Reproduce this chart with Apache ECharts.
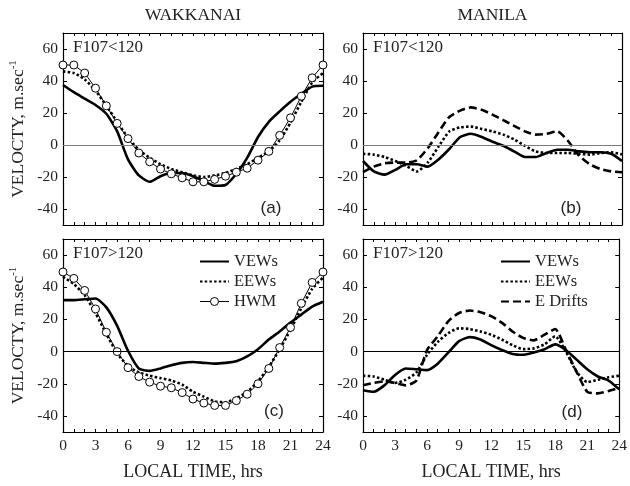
<!DOCTYPE html>
<html><head><meta charset="utf-8">
<script src="https://cdn.jsdelivr.net/npm/echarts@6/dist/echarts.min.js"></script>
<style>html,body{margin:0;padding:0;background:#fff}#c{width:630px;height:486px}</style>
</head><body><div id="c"></div>
<script>
// ---------- data ----------
const hours = [0,1,2,3,4,5,6,7,8,9,10,11,12,13,14,15,16,17,18,19,20,21,22,23,24];
const yTickValues = [-40,-20,0,20,40,60];
const columnTitles = ['WAKKANAI','MANILA'];
const panelTags = ['(a)','(b)','(c)','(d)'];
const fluxTags = ['F107<120','F107<120','F107>120','F107>120'];

// (a) Wakkanai, F107<120
const wakLowVEWs = [37.5,33,29,25,19.5,8.5,-9,-19,-23,-19.5,-17.5,-17.5,-19.5,-22.5,-25.5,-25,-18,-8,5,14.5,21,27,32,36.5,37];
const wakLowEEWs = [46,45,41,34,24.5,14.5,4.5,-3,-8,-12,-15,-17,-19,-20,-19,-17.5,-15,-12,-8,-4,3,14,27,39,45];
const wakLowHWM  = [50,50,45,35.5,24.5,13.5,4,-5,-10.5,-15,-18,-20.5,-23,-23,-21.5,-19.5,-17,-14.5,-9.5,-4,6,17,30.5,42,50];
// (b) Manila, F107<120
const manLowVEWs = [-10,-16.5,-18.5,-15.5,-12,-12,-13.5,-9,-2.5,5,7,5,2,-0.5,-4,-7.5,-7.5,-5,-3,-3,-4,-4.5,-4.5,-5.5,-10];
const manLowEEWs = [-5.5,-6,-7.5,-10,-13,-16.5,-11,-1,8.5,11,11.5,10,8.5,6.5,3.5,-0.5,-4,-5,-5,-5,-5.5,-6,-5,-4.5,-6];
const manLowEDrifts = [-17,-13.5,-11.5,-11,-11,-9.5,-2,8,17.5,21.5,23.5,22,19,15.5,12,8.5,6.5,7,8.5,2.5,-6.5,-12,-15,-16.5,-17];
// (c) Wakkanai, F107>120
const wakHighVEWs = [32,32,32.5,33,27.5,16,0.5,-10.5,-12,-10.5,-8.5,-7,-6.5,-7,-7.5,-7,-6,-3,1.5,7.5,12.5,18,23,28,31];
const wakHighEEWs = [46.5,42,35,24,11,-1,-9,-13,-15,-16.5,-18,-20.5,-25,-28,-31,-31.5,-29,-25,-18.5,-9.5,1.5,13.5,27,39,46];
const wakHighHWM  = [49.5,45.5,38,26.5,12,0,-10,-15.5,-19,-21.5,-22.5,-25.5,-29.5,-32,-33.5,-33.5,-30.5,-26.5,-20,-10.5,2.5,15,30,43,49.5];
// (d) Manila, F107>120
const manHighVEWs = [-24,-25,-21,-14.5,-10.5,-11,-11.5,-7.5,-0.5,6.5,9,7.5,4,1,-1.5,-2,-0.5,1.5,4.5,1,-5,-11,-15.5,-18,-23.5];
const manHighEEWs = [-15,-15.5,-17.5,-19.5,-17.5,-13,-2,6,11.5,14.5,14,12.5,10.5,7.5,4,1.5,2,4.5,9.5,0,-12.5,-19,-17.5,-16,-15];
const manHighEDrifts = [-21,-19.5,-18.5,-19.5,-21,-18,1,9.5,19,24,25.5,24.5,22,18,12.5,8.5,7,10.5,14,1,-12.5,-25,-26,-24.5,-22.5];

// ---------- build ----------
const SERIF = 'Liberation Serif';
const SANS = 'Liberation Sans';
const pts = arr => hours.map((h,i)=>[h,arr[i]]);

const grids = [
  {left:63, top:33, width:260, height:192},
  {left:363, top:33, width:259, height:192},
  {left:63, top:239, width:260, height:193},
  {left:363, top:239, width:259, height:193}
];

const xAxis = [], yAxis = [];
grids.forEach((g,i)=>{
  const bottomRow = i>=2, leftCol = (i%2)===0;
  const base = {
    type:'value', gridIndex:i, min:0, max:24, interval:3,
    axisLine:{show:true, onZero:false, lineStyle:{color:'#000', width:1.2}},
    axisTick:{show:true, inside:true, length:3, lineStyle:{color:'#000', width:1}},
    minorTick:{show:true, splitNumber:3, length:3, lineStyle:{color:'#000', width:1}},
    splitLine:{show:false}, minorSplitLine:{show:false}
  };
  xAxis.push(Object.assign({}, base, {
    position:'bottom',
    axisLabel:{show:bottomRow, fontFamily:SERIF, fontSize:15.5, color:'#222', margin:6},
    name: bottomRow ? 'LOCAL TIME, hrs' : '', nameLocation:'middle', nameGap:31,
    nameTextStyle:{fontFamily:SERIF, fontSize:18, color:'#222'}
  }));
  xAxis.push(Object.assign({}, base, {position:'top', axisLabel:{show:false}}));
  const ybase = {
    type:'value', gridIndex:i, min:-50, max:70,
    axisLine:{show:true, onZero:false, lineStyle:{color:'#000', width:1.2}},
    axisTick:{show:true, inside:true, length:4, customValues:yTickValues, lineStyle:{color:'#000'}},
    splitLine:{show:false}
  };
  yAxis.push(Object.assign({}, ybase, {
    position:'left',
    axisLabel:{show:true, customValues:yTickValues, fontFamily:SERIF, fontSize:15.5, color:'#222', margin:5},
    name: leftCol ? '{a|VELOCTY, m.sec}{s|-1}' : '', nameLocation:'middle', nameGap:35, nameRotate:90,
    nameTextStyle:{fontFamily:SERIF, fontSize:17.5, color:'#222', lineHeight:20,
      rich:{a:{fontFamily:SERIF, fontSize:17.5, color:'#222', lineHeight:20},
            s:{fontFamily:SERIF, fontSize:11, color:'#222', verticalAlign:'top', lineHeight:11}}}
  }));
  yAxis.push(Object.assign({}, ybase, {position:'right', axisLabel:{show:false}}));
});

const styles = {
  VEWs: {lineStyle:{color:'#000', width:2.6, type:'solid'}},
  EEWs: {lineStyle:{color:'#000', width:2.6, type:[2.5,2.2]}},
  'E Drifts': {lineStyle:{color:'#000', width:2.6, type:[8,4]}},
  HWM: {lineStyle:{color:'#000', width:1, type:'solid'}}
};
function mk(name, arr, g, zeroColor){
  const s = {
    name, type:'line', xAxisIndex:2*g, yAxisIndex:2*g, data:pts(arr),
    lineStyle:styles[name].lineStyle, itemStyle:{color:'#000'},
    showSymbol:false, symbol:'none', animation:false, smooth: name==='HWM' ? false : 0.2, z:3
  };
  if (name==='HWM'){
    s.symbol='circle'; s.showSymbol=true; s.symbolSize=8;
    s.itemStyle={color:'#fff', borderColor:'#000', borderWidth:1};
    s.z=4;
  }
  if (zeroColor){
    s.markLine = {silent:true, symbol:'none', animation:false, label:{show:false},
      lineStyle:{color:zeroColor, width:1, type:'solid'}, data:[{yAxis:0}]};
  }
  return s;
}

const series = [
  mk('VEWs', wakLowVEWs, 0, '#7a7a7a'), mk('EEWs', wakLowEEWs, 0), mk('HWM', wakLowHWM, 0),
  mk('VEWs', manLowVEWs, 1, '#7a7a7a'), mk('EEWs', manLowEEWs, 1), mk('E Drifts', manLowEDrifts, 1),
  mk('VEWs', wakHighVEWs, 2, '#000'), mk('EEWs', wakHighEEWs, 2), mk('HWM', wakHighHWM, 2),
  mk('VEWs', manHighVEWs, 3, '#000'), mk('EEWs', manHighEEWs, 3), mk('E Drifts', manHighEDrifts, 3)
];

const noSym = n => ({name:n, itemStyle:{opacity:0, borderWidth:0}});
const legendBase = {orient:'vertical', itemWidth:29, itemHeight:10, itemGap:3, selectedMode:false, padding:0,
  textStyle:{fontFamily:SERIF, fontSize:16.5, color:'#222', lineHeight:16}};
const legend = [
  Object.assign({}, legendBase, {left:199, top:253, data:[noSym('VEWs'), noSym('EEWs'),
    {name:'HWM', lineStyle:{width:1, color:'#000'}, itemStyle:{color:'#fff', borderColor:'#000', borderWidth:1}}]}),
  Object.assign({}, legendBase, {left:500, top:253, data:[noSym('VEWs'), noSym('EEWs'), noSym('E Drifts')]})
];

const graphic = [];
columnTitles.forEach((t,i)=>{
  const g = grids[i];
  graphic.push({type:'text', x:g.left+g.width/2, y:15, style:{text:t, font:'17.5px "'+SERIF+'"', fill:'#222', align:'center', verticalAlign:'middle'}});
});
const tagPos = [[271,208],[571,208],[274,411],[572,412]];
grids.forEach((g,i)=>{
  graphic.push({type:'text', x:g.left+10, y:g.top+15, style:{text:fluxTags[i], font:'17px "'+SERIF+'"', fill:'#222', align:'left', verticalAlign:'middle'}});
  graphic.push({type:'text', x:tagPos[i][0], y:tagPos[i][1], style:{text:panelTags[i], font:'17px "'+SANS+'"', fill:'#222', align:'center', verticalAlign:'middle'}});
});

const chart = echarts.init(document.getElementById('c'), null, {renderer:'canvas'});
chart.setOption({animation:false, backgroundColor:'#fff', grid:grids, xAxis, yAxis, series, legend, graphic});
</script></body></html>
